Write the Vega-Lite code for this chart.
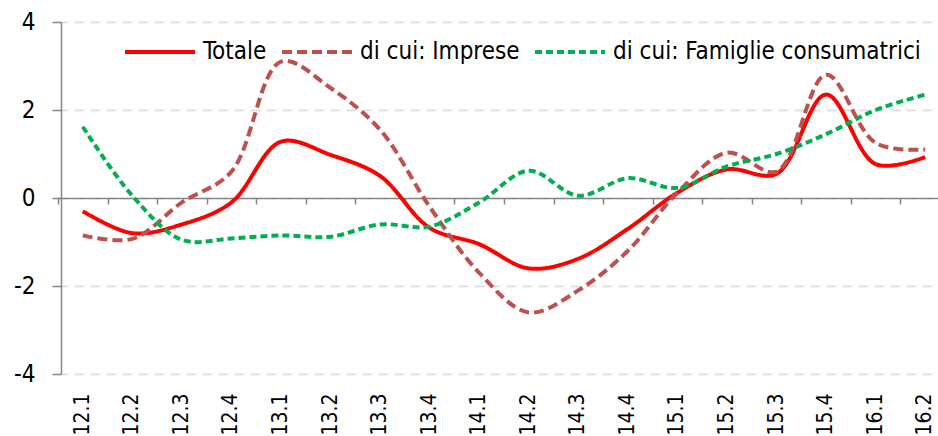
{
  "$schema": "https://vega.github.io/schema/vega-lite/v6.json",
  "width": 877,
  "height": 352,
  "autosize": {"type": "none"},
  "padding": {"left": 61, "top": 22, "right": 0, "bottom": 62},
  "background": "white",
  "config": {
    "view": {"stroke": null},
    "font": "'DejaVu Sans Condensed', 'Liberation Sans'",
    "axis": {"labelColor": "#000000", "labelFont": "'DejaVu Sans Condensed', 'Liberation Sans'"},
    "legend": {"labelFont": "'DejaVu Sans Condensed', 'Liberation Sans'"}
  },
  "datasets": {
    "d": [
      {"t": "12.1", "s": "Totale", "v": -0.3},
      {"t": "12.2", "s": "Totale", "v": -0.8},
      {"t": "12.3", "s": "Totale", "v": -0.6},
      {"t": "12.4", "s": "Totale", "v": -0.1},
      {"t": "13.1", "s": "Totale", "v": 1.28},
      {"t": "13.2", "s": "Totale", "v": 0.98},
      {"t": "13.3", "s": "Totale", "v": 0.5},
      {"t": "13.4", "s": "Totale", "v": -0.68},
      {"t": "14.1", "s": "Totale", "v": -1.05},
      {"t": "14.2", "s": "Totale", "v": -1.6},
      {"t": "14.3", "s": "Totale", "v": -1.38},
      {"t": "14.4", "s": "Totale", "v": -0.7},
      {"t": "15.1", "s": "Totale", "v": 0.12},
      {"t": "15.2", "s": "Totale", "v": 0.65},
      {"t": "15.3", "s": "Totale", "v": 0.55},
      {"t": "15.4", "s": "Totale", "v": 2.35},
      {"t": "16.1", "s": "Totale", "v": 0.77},
      {"t": "16.2", "s": "Totale", "v": 0.93},
      {"t": "12.1", "s": "di cui: Imprese", "v": -0.85},
      {"t": "12.2", "s": "di cui: Imprese", "v": -0.93},
      {"t": "12.3", "s": "di cui: Imprese", "v": -0.1},
      {"t": "12.4", "s": "di cui: Imprese", "v": 0.6},
      {"t": "13.1", "s": "di cui: Imprese", "v": 3.1},
      {"t": "13.2", "s": "di cui: Imprese", "v": 2.5},
      {"t": "13.3", "s": "di cui: Imprese", "v": 1.55},
      {"t": "13.4", "s": "di cui: Imprese", "v": -0.2},
      {"t": "14.1", "s": "di cui: Imprese", "v": -1.7},
      {"t": "14.2", "s": "di cui: Imprese", "v": -2.6},
      {"t": "14.3", "s": "di cui: Imprese", "v": -2.1},
      {"t": "14.4", "s": "di cui: Imprese", "v": -1.2},
      {"t": "15.1", "s": "di cui: Imprese", "v": 0.12},
      {"t": "15.2", "s": "di cui: Imprese", "v": 1.03},
      {"t": "15.3", "s": "di cui: Imprese", "v": 0.6},
      {"t": "15.4", "s": "di cui: Imprese", "v": 2.8},
      {"t": "16.1", "s": "di cui: Imprese", "v": 1.25},
      {"t": "16.2", "s": "di cui: Imprese", "v": 1.1},
      {"t": "12.1", "s": "di cui: Famiglie consumatrici", "v": 1.62},
      {"t": "12.2", "s": "di cui: Famiglie consumatrici", "v": 0.05},
      {"t": "12.3", "s": "di cui: Famiglie consumatrici", "v": -0.95},
      {"t": "12.4", "s": "di cui: Famiglie consumatrici", "v": -0.92},
      {"t": "13.1", "s": "di cui: Famiglie consumatrici", "v": -0.85},
      {"t": "13.2", "s": "di cui: Famiglie consumatrici", "v": -0.88},
      {"t": "13.3", "s": "di cui: Famiglie consumatrici", "v": -0.6},
      {"t": "13.4", "s": "di cui: Famiglie consumatrici", "v": -0.65},
      {"t": "14.1", "s": "di cui: Famiglie consumatrici", "v": -0.1},
      {"t": "14.2", "s": "di cui: Famiglie consumatrici", "v": 0.62},
      {"t": "14.3", "s": "di cui: Famiglie consumatrici", "v": 0.05},
      {"t": "14.4", "s": "di cui: Famiglie consumatrici", "v": 0.45},
      {"t": "15.1", "s": "di cui: Famiglie consumatrici", "v": 0.23},
      {"t": "15.2", "s": "di cui: Famiglie consumatrici", "v": 0.72},
      {"t": "15.3", "s": "di cui: Famiglie consumatrici", "v": 1.0},
      {"t": "15.4", "s": "di cui: Famiglie consumatrici", "v": 1.45},
      {"t": "16.1", "s": "di cui: Famiglie consumatrici", "v": 2.0},
      {"t": "16.2", "s": "di cui: Famiglie consumatrici", "v": 2.35}
    ]
  },
  "data": {"name": "d"},
  "resolve": {"axis": {"x": "independent"}},
  "layer": [
    {
      "mark": {"type": "point", "opacity": 0},
      "encoding": {
        "x": {
          "field": "t", "type": "ordinal", "sort": null,
          "scale": {"type": "band", "range": [-3, 889], "paddingInner": 0, "paddingOuter": 0},
          "axis": {
            "orient": "bottom", "offset": -176, "title": null, "labels": false, "grid": false,
            "domain": true, "domainColor": "#868686", "domainWidth": 1.5,
            "ticks": true, "tickBand": "extent", "tickColor": "#868686", "tickWidth": 1.5, "tickSize": 6
          }
        },
        "y": {
          "field": "v", "type": "quantitative",
          "scale": {"domain": [-4, 4], "nice": false, "zero": false},
          "axis": {
            "values": [-4, -2, 0, 2, 4], "title": null,
            "labelExpr": "replace(datum.label, '\u2212', '-')",
            "grid": true, "gridDash": [10, 6], "gridColor": "#d9d9d9", "gridWidth": 1.5,
            "domainColor": "#868686", "domainWidth": 1.5,
            "tickColor": "#868686", "tickWidth": 1.5, "tickSize": 9,
            "labelFontSize": 24, "labelPadding": 17, "labelColor": "#000000"
          }
        }
      }
    },
    {
      "mark": {"type": "line", "interpolate": "catmull-rom", "strokeWidth": 4},
      "encoding": {
        "x": {
          "field": "t", "type": "ordinal", "sort": null,
          "axis": {
            "orient": "bottom", "title": null, "domain": false, "ticks": false, "grid": false,
            "labelAngle": -90, "labelAlign": "right", "labelBaseline": "middle",
            "labelPadding": 19, "labelFontSize": 21, "labelOverlap": false
          }
        },
        "y": {
          "field": "v", "type": "quantitative",
          "scale": {"domain": [-4, 4], "nice": false, "zero": false},
          "axis": {
            "values": [-4, -2, 0, 2, 4], "title": null,
            "labelExpr": "replace(datum.label, '\u2212', '-')",
            "grid": true, "gridDash": [10, 6], "gridColor": "#d9d9d9", "gridWidth": 1.5,
            "domainColor": "#868686", "domainWidth": 1.5,
            "tickColor": "#868686", "tickWidth": 1.5, "tickSize": 9,
            "labelFontSize": 24, "labelPadding": 17, "labelColor": "#000000"
          }
        },
        "color": {
          "field": "s", "type": "nominal",
          "scale": {
            "domain": ["Totale", "di cui: Imprese", "di cui: Famiglie consumatrici"],
            "range": ["#ff0000", "#c0504d", "#00b050"]
          },
          "legend": {
            "title": null, "orient": "none", "legendX": 62, "legendY": -7, "direction": "horizontal",
            "symbolType": "stroke", "symbolSize": 4900, "symbolStrokeWidth": 4,
            "labelFontSize": 24, "labelColor": "#000000", "labelOffset": 6, "columnPadding": 7, "labelLimit": 0
          }
        },
        "strokeDash": {
          "field": "s", "type": "nominal",
          "scale": {
            "domain": ["Totale", "di cui: Imprese", "di cui: Famiglie consumatrici"],
            "range": [[1, 0], [10, 5], [7, 4]]
          },
          "legend": {
            "title": null, "orient": "none", "legendX": 62, "legendY": -7, "direction": "horizontal",
            "symbolType": "stroke", "symbolSize": 4900, "symbolStrokeWidth": 4,
            "labelFontSize": 24, "labelColor": "#000000", "labelOffset": 6, "columnPadding": 7, "labelLimit": 0
          }
        }
      }
    }
  ]
}
